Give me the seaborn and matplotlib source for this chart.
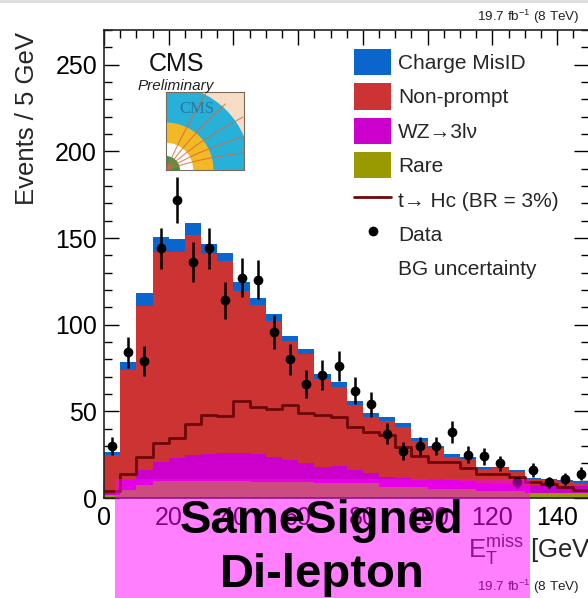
import numpy as np
import pandas as pd
import matplotlib
matplotlib.use("Agg")
import matplotlib.pyplot as plt
import seaborn as sns
from matplotlib.patches import Patch, Rectangle, Wedge
from matplotlib.lines import Line2D

# ---------------- data ----------------
bin_centers = np.arange(2.5, 150, 5)

charge_misid = [1.5, 4.7, 7.0, 8.3, 7.5, 7.1, 5.9, 4.7, 4.8, 4.1, 3.6, 2.8, 3.0, 2.9, 2.5,
                2.3, 2.4, 2.4, 1.9, 1.8, 1.5, 1.5, 1.2, 0.8, 1.0, 1.0, 0.7, 0.8, 1.0, 1.0]
non_prompt = [22.0, 63.0, 94.8, 121.0, 119.1, 126.7, 115.3, 111.0, 93.9, 85.8, 78.5, 68.9, 63.0,
              50.8, 45.8, 37.5, 32.6, 32.3, 29.8, 22.3, 17.9, 13.2, 12.3, 8.5, 9.1, 7.7, 3.5,
              3.0, 2.2, 2.0]
wz_3lnu = [1.5, 6.5, 8.7, 11.0, 12.9, 14.8, 15.4, 15.8, 15.8, 15.9, 14.4, 12.4, 10.5, 9.2, 10.0,
           7.7, 5.8, 5.8, 4.9, 3.9, 5.8, 5.5, 5.0, 4.7, 4.2, 3.7, 4.5, 4.2, 4.0, 3.8]
rare = [1.5, 4.5, 7.5, 10.0, 10.0, 10.0, 10.0, 10.0, 10.0, 9.5, 9.5, 9.5, 9.5, 8.5, 8.5, 8.5,
        8.5, 6.5, 6.5, 6.5, 5.0, 5.0, 5.0, 3.8, 3.8, 3.8, 3.0, 3.0, 3.0, 3.0]
signal_thc = [4.3, 14.0, 23.5, 31.6, 34.5, 42.5, 47.9, 47.3, 56.0, 52.3, 51.3, 53.6, 48.9, 47.9,
              46.6, 41.2, 38.3, 36.4, 29.6, 24.5, 21.0, 21.0, 17.1, 14.0, 13.6, 12.3, 9.4, 7.9,
              6.5, 4.6]
data_counts = [30, 84, 79, 144, 172, 136, 144, 114, 127, 126, 96, 80, 66, 71, 76, 62, 54, 37,
               27, 30, 30, 38, 25, 24, 20, 9, 16, 9, 11, 14]

process_names = ["Charge MisID", "Non-prompt", "WZ\u21923l\u03bd", "Rare"]
process_colors = ["#0a66cc", "#cc3333", "#cc00cc", "#999900"]
signal_label = "t\u2192 Hc (BR = 3%)"
signal_color = "#6e0808"

x_ticks = [0, 20, 40, 60, 80, 100, 120, 140]
y_ticks = [0, 50, 100, 150, 200, 250]

# ---------------- style ----------------
sns.set_style("ticks")
plt.rcParams["font.family"] = ["Liberation Sans", "DejaVu Sans"]
plt.rcParams["mathtext.fontset"] = "custom"
plt.rcParams["mathtext.rm"] = "Liberation Sans"
plt.rcParams["mathtext.it"] = "Liberation Sans:italic"
plt.rcParams["mathtext.bf"] = "Liberation Sans:bold"

W, H = 588, 598
fig = plt.figure(figsize=(W / 100, H / 100), dpi=100)
fig.patch.set_facecolor("white")

def fx(px):
    return px / W

def fy(py):
    return 1 - py / H

ax = fig.add_axes([fx(104), fy(498), (589.4 - 104) / W, (498 - 30) / H])

df = pd.DataFrame({
    "met": np.tile(bin_centers, len(process_names)),
    "events": np.concatenate([charge_misid, non_prompt, wz_3lnu, rare]),
    "process": np.repeat(process_names, len(bin_centers)),
})

sns.histplot(data=df, x="met", weights="events", hue="process", hue_order=process_names,
             multiple="stack", binwidth=5, binrange=(0, 150), element="step", fill=True,
             alpha=1, linewidth=0, edgecolor="none", palette=process_colors, legend=False,
             ax=ax)

sig_df = pd.DataFrame({"met": bin_centers, "events": signal_thc})
sns.histplot(data=sig_df, x="met", weights="events", binwidth=5, binrange=(0, 150),
             element="step", fill=False, color=signal_color, linewidth=2.0, ax=ax)

ax.errorbar(bin_centers, data_counts, yerr=np.sqrt(data_counts), fmt="o", color="black",
            markersize=6, elinewidth=1.8, capsize=0, zorder=5)

ax.set_xlim(0, 150)
ax.set_ylim(0, 270)
ax.set_xlabel("")
ax.set_ylabel("")
ax.set_xticks(x_ticks)
ax.set_yticks(y_ticks)
ax.set_xticks(np.arange(0, 151, 5), minor=True)
ax.set_yticks(np.arange(0, 271, 10), minor=True)
ax.tick_params(which="both", direction="in", top=True, right=True, labelsize=18,
               colors="black", width=1.0)
ax.tick_params(which="major", length=11)
ax.tick_params(which="minor", length=5.5)
ax.tick_params(axis="x", pad=6)
ax.tick_params(axis="y", pad=5)
for s in ax.spines.values():
    s.set_linewidth(1.2)
    s.set_color("#222222")

# legend
handles = [Patch(facecolor=c, edgecolor="none") for c in process_colors]
handles.append(Line2D([], [], color=signal_color, linewidth=2.0))
handles.append(Line2D([], [], marker="o", color="black", linestyle="none", markersize=6))
handles.append(Patch(facecolor="none", edgecolor="none"))
labels = process_names + [signal_label, "Data", "BG uncertainty"]
fs = 15
ax.legend(handles, labels, loc="upper left", bbox_to_anchor=(fx(354), fy(49)),
          bbox_transform=fig.transFigure, frameon=False, fontsize=fs, borderpad=0,
          borderaxespad=0, handlelength=1.78, handleheight=1.55, handletextpad=0.34,
          labelspacing=0.4)

# CMS labels
fig.text(fx(176), fy(64), "CMS", fontsize=18, ha="center", va="center", color="#111111")
fig.text(fx(176), fy(86), "Preliminary", fontsize=11, style="italic", ha="center",
         va="center", color="#222222")

# CMS logo drawing
lax = fig.add_axes([fx(166), fy(170), 78 / W, 78 / H])
lax.set_xlim(0, 1)
lax.set_ylim(0, 1)
lax.set_xticks([])
lax.set_yticks([])
lax.add_patch(Rectangle((0, 0), 1, 1, color="#f7dcc6"))
lax.add_patch(Wedge((0.0, 0.0), 1.08, 0, 90, color="#27b0d8"))
lax.add_patch(Wedge((0.0, 0.0), 0.6, 0, 90, color="#f2b925"))
lax.add_patch(Wedge((0.0, 0.0), 0.34, 0, 90, color="white"))
lax.add_patch(Wedge((0.0, 0.0), 0.17, 0, 90, color="#2f9a48"))
t = np.linspace(0, 1.1, 60)
for a, c in [(0.35, 0.25), (0.55, 0.2), (0.75, 0.15), (0.95, 0.1), (1.15, 0.05)]:
    xs = t * np.cos(a) + c * t ** 2
    ys = t * np.sin(a) - c * t ** 2 * 0.4
    lax.plot(xs, ys, color="#d9683c", linewidth=0.8, alpha=0.8)
lax.text(0.4, 0.78, "CMS", fontsize=12, family=["Liberation Serif", "DejaVu Serif"],
         color="#2c5f8c", alpha=0.7, ha="center", va="center")
for s in lax.spines.values():
    s.set_linewidth(0.8)
    s.set_color("#7a6a5a")

# axis titles
fig.text(fx(27), fy(32), "Events / 5 GeV", rotation=90, fontsize=18.5, ha="center", va="top")
fig.text(fx(468), fy(550), r"$\mathrm{E}_{\mathrm{T}}^{\mathrm{miss}}$ [GeV]", fontsize=18.5,
         ha="left", va="center")

# luminosity labels
lumi = r"19.7 fb$^{-1}$ (8 TeV)"
fig.text(fx(477), fy(17), lumi, fontsize=9.7, ha="left", va="center", color="#222222")
fig.text(fx(477), fy(587), lumi, fontsize=9.7, ha="left", va="center", color="#222222")

# light line at top of image
fig.add_artist(Line2D([0, 1], [fy(1), fy(1)], transform=fig.transFigure, color="#dcdcdc",
                      linewidth=2))

# magenta overlay box with its text
fig.add_artist(Rectangle((fx(115), 0), (530 - 115) / W, (598 - 479) / H,
                         transform=fig.transFigure, facecolor="#ff00ff", alpha=0.5,
                         edgecolor="none", zorder=10))
fig.text(fx(322), fy(533), "SameSigned", fontsize=34, fontweight="bold", ha="center",
         va="baseline", color="black", zorder=11)
fig.text(fx(322), fy(587), "Di-lepton", fontsize=34, fontweight="bold", ha="center",
         va="baseline", color="black", zorder=11)

fig.savefig("out.png", dpi=100)
